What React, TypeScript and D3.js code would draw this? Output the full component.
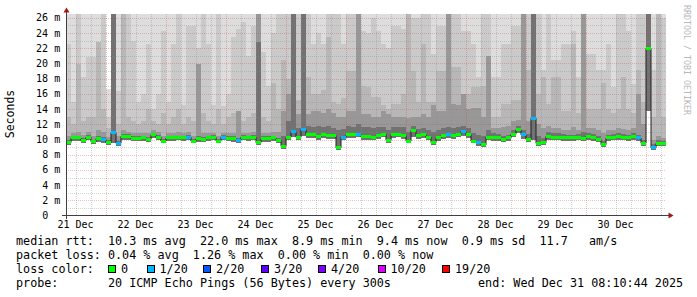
import React from "react";
import * as d3 from "d3";

const W = 697;
const H = 297;
const START = Date.UTC(2025, 11, 21, 8, 10, 44);
const END = Date.UTC(2025, 11, 31, 8, 10, 44);
const STEP_MS = 2 * 3600 * 1000;

const median = [
  9.6, 10.2, 10.2, 9.9, 10.3, 9.7, 10.1, 10.0, 9.6, 10.9,
  9.5, 10.4, 10.4, 10.1, 10.1, 10.2, 10.0, 10.6, 10.3, 9.8,
  10.2, 10.2, 10.2, 10.2, 10.3, 9.8, 10.1, 10.0, 10.2, 10.3,
  9.8, 10.3, 10.1, 10.1, 9.9, 10.3, 10.2, 10.3, 9.6, 10.1,
  10.1, 10.2, 9.9, 9.1, 10.3, 11.0, 10.3, 11.3, 10.6, 10.6,
  10.4, 10.6, 10.5, 10.5, 8.9, 10.3, 10.6, 10.6, 10.7, 10.4,
  10.4, 10.3, 10.5, 10.7, 9.9, 10.6, 10.7, 10.5, 9.8, 11.2,
  10.5, 10.6, 10.3, 9.6, 10.2, 10.5, 10.6, 10.5, 10.7, 11.0,
  10.6, 9.8, 9.6, 9.3, 10.3, 10.2, 10.2, 10.0, 10.2, 10.7,
  11.3, 10.6, 10.0, 12.8, 9.5, 9.6, 10.4, 10.3, 10.3, 10.2,
  10.2, 10.2, 10.3, 10.1, 10.4, 10.2, 10.0, 9.3, 10.2, 10.3,
  10.4, 10.3, 10.2, 10.4, 10.2, 9.5, 22.0, 8.9, 9.5, 9.5,
];

const lossIdx = [
  0, 0, 0, 0, 0, 0, 0, 1, 0, 1,
  1, 0, 0, 0, 0, 0, 0, 0, 0, 0,
  0, 0, 0, 0, 1, 0, 0, 0, 0, 0,
  0, 1, 0, 0, 1, 0, 0, 0, 0, 0,
  0, 0, 0, 0, 0, 1, 0, 1, 0, 0,
  0, 0, 0, 0, 0, 1, 0, 0, 1, 0,
  0, 0, 0, 0, 0, 0, 0, 0, 0, 0,
  0, 0, 0, 0, 0, 0, 1, 0, 0, 1,
  0, 0, 1, 0, 0, 0, 0, 0, 0, 0,
  0, 1, 0, 1, 0, 0, 0, 0, 0, 0,
  0, 0, 0, 0, 0, 0, 0, 0, 0, 0,
  0, 0, 0, 0, 1, 0, 0, 1, 0, 0,
];

const pingMin = [
  9.3, 9.8, 9.8, 9.5, 9.9, 9.4, 9.7, 9.6, 9.3, 9.6,
  9.2, 10.0, 10.0, 9.8, 9.8, 9.8, 9.7, 10.2, 9.9, 9.5,
  9.8, 9.8, 9.9, 9.8, 9.9, 9.5, 9.7, 9.7, 9.8, 9.9,
  9.5, 9.9, 9.8, 9.7, 9.6, 9.9, 9.8, 9.9, 9.3, 9.7,
  9.7, 9.8, 9.5, 8.8, 9.9, 10.3, 9.9, 10.4, 10.2, 10.2,
  10.0, 10.2, 10.1, 10.1, 8.6, 9.9, 10.2, 10.2, 10.3, 10.0,
  10.0, 9.9, 10.1, 10.3, 9.6, 10.2, 10.3, 10.1, 9.5, 10.3,
  10.1, 10.2, 9.9, 9.3, 9.8, 10.1, 10.2, 10.1, 10.3, 10.5,
  10.2, 9.5, 9.2, 9.0, 9.9, 9.8, 9.8, 9.7, 9.8, 10.3,
  10.8, 10.1, 9.7, 10.0, 9.2, 9.3, 10.0, 9.9, 9.9, 9.8,
  9.8, 9.8, 9.9, 9.8, 10.0, 9.8, 9.7, 9.0, 9.8, 9.9,
  10.0, 9.9, 9.8, 10.0, 9.8, 9.2, 13.8, 8.6, 9.2, 9.2,
];

const ping20 = [
  28, 28, 28, 28, 28, 28, 28, 28, 16.6, 28,
  28, 28, 28, 28, 28, 28, 28, 28, 28, 28,
  28, 28, 28, 28, 28, 28, 28, 28, 28, 28,
  28, 28, 28, 28, 28, 28, 28, 28, 28, 28,
  28, 28, 28, 28, 28, 28, 28, 28, 28, 28,
  28, 28, 28, 28, 28, 28, 28, 28, 28, 28,
  28, 28, 28, 28, 28, 28, 28, 28, 28, 28,
  28, 28, 28, 28, 28, 28, 28, 28, 28, 28,
  28, 28, 28, 28, 28, 28, 28, 28, 28, 28,
  28, 28, 28, 28, 28, 28, 28, 28, 28, 28,
  28, 28, 28, 28, 28, 28, 28, 28, 28, 28,
  28, 28, 28, 28, 28, 28, 28, 28, 28, 28,
];

const ping19 = [
  22.6, 15, 28, 18.2, 20.8, 20.8, 22.8, 28, 13, 28,
  16.4, 28, 28, 23, 15, 16, 22.6, 14, 16, 24.3,
  15, 22.6, 28, 14.5, 25, 25, 22, 28, 22.6, 14.5,
  28, 14.4, 16, 23.5, 24.5, 25.5, 21, 25, 28, 21.5,
  17, 24, 28, 28, 28, 28, 28, 28, 28, 22.6,
  24, 22.6, 28, 28, 28, 22.6, 28, 28, 28, 24.3,
  24, 26, 24.3, 22.6, 22, 25, 25, 24.5, 28, 26,
  26, 28, 27, 21.3, 25, 25, 28, 28, 28, 24.3,
  24.3, 22.6, 18.2, 27, 27, 18.2, 18.2, 22.6, 22.6, 25,
  25, 28, 28, 28, 28, 19.1, 28, 20.5, 20.5, 22.6,
  22.6, 24.3, 18.2, 28, 21.3, 21.3, 19.1, 19.1, 22.6, 16.9,
  28, 28, 24.3, 17.3, 28, 28, 28, 19.1, 28, 26,
];

const ping18 = [
  13, 12, 20, 12.5, 13, 13, 22.8, 14, 11.5, 28,
  12, 28, 13, 12.5, 12, 12.5, 14, 12.5, 12, 13.5,
  12, 13, 14, 12, 13, 12.5, 20, 13.5, 12.5, 12,
  14, 12, 13, 13.5, 13.8, 12.5, 13, 13.5, 28, 13,
  12.5, 17.5, 14, 20.4, 18, 28, 15.2, 28, 18.2, 16,
  16, 16.5, 23.5, 15, 14.7, 15.5, 19, 19, 28, 17,
  16.9, 15.6, 15.6, 14.5, 14, 14.7, 14.7, 16, 28, 19,
  15, 22.6, 15, 15, 19, 19, 28, 19.5, 19.5, 16,
  16, 16.9, 16.9, 17, 21, 13, 13, 14.7, 14.7, 15.2,
  15.2, 28, 19.1, 28, 16, 18.2, 14.7, 18.2, 18.2, 13.8,
  13.8, 22.6, 13.5, 28, 14, 14, 14, 17.5, 14, 13.5,
  14, 18.2, 14, 13.5, 19.1, 15, 28, 13, 28, 13,
];

const ping16 = [
  10.4, 10.8, 11, 10.6, 11, 10.5, 11.2, 11, 10.3, 28,
  10.5, 11.2, 11, 10.8, 10.8, 10.8, 10.8, 11.2, 11, 10.5,
  10.8, 10.8, 11, 10.8, 11, 10.5, 20, 10.8, 10.8, 10.9,
  10.5, 10.9, 10.8, 10.8, 13.8, 10.9, 10.8, 11, 28, 10.8,
  10.8, 11, 11, 13.8, 16, 28, 13.4, 28, 13.4, 13.8,
  13.8, 13.5, 14, 13.5, 13, 13, 13.8, 13.8, 28, 13.4,
  13.4, 13, 13, 13.8, 13.3, 13, 13, 13, 12.8, 13,
  13, 13.4, 13, 14.5, 13.8, 13.8, 28, 14.7, 14.5, 16,
  14, 14.1, 14.1, 13, 21, 11.5, 11.5, 11.6, 11.8, 12.5,
  12.6, 28, 12.5, 28, 12, 11.5, 11.8, 11.5, 11.5, 11.3,
  11.3, 11.6, 11.3, 28, 11.5, 11.5, 11.2, 10.8, 11.3, 11.3,
  11.5, 11.4, 11.3, 11.5, 16, 12, 28, 10, 10.5, 10.2,
];

const ping14 = [
  9.9, 10.5, 10.5, 10.2, 10.6, 10, 10.4, 10.3, 9.9, 28,
  9.8, 10.7, 10.7, 10.4, 10.4, 10.5, 10.3, 10.9, 10.6, 10.1,
  10.5, 10.5, 10.5, 10.5, 10.6, 10.1, 10.4, 10.3, 10.5, 10.6,
  10.1, 10.6, 10.4, 10.4, 10.2, 10.6, 10.5, 10.6, 22.8, 10.4,
  10.4, 10.5, 10.2, 10.5, 12.5, 28, 11.5, 28, 11.8, 11.6,
  11.8, 11.6, 11.8, 11.5, 11.3, 11.4, 11.8, 11.6, 12, 11.7,
  11.6, 11.5, 11.6, 11.7, 11.3, 11.6, 11.6, 11.6, 11, 11.8,
  11.4, 11.5, 11.2, 11, 11.3, 11.5, 11.6, 11.5, 11.6, 11.8,
  11.5, 10.8, 10.6, 10.5, 11.2, 10.8, 10.7, 10.5, 10.6, 11.2,
  11.8, 11.2, 10.7, 28, 10.4, 10.2, 11, 10.8, 10.8, 10.7,
  10.6, 10.6, 10.7, 11, 10.8, 10.7, 10.5, 9.8, 10.6, 10.7,
  10.8, 10.7, 10.6, 10.8, 10.6, 10, 28, 9.4, 9.9, 9.8,
];

const smokeBands = [
  { tops: ping20, color: "#dddddd" },
  { tops: ping19, color: "#cacaca" },
  { tops: ping18, color: "#b7b7b7" },
  { tops: ping16, color: "#989898" },
  { tops: ping14, color: "#727272" },
];

const yTickValues = [0, 2, 4, 6, 8, 10, 12, 14, 16, 18, 20, 22, 24, 26];
const yMinorValues = [1, 3, 5, 7, 9, 11, 13, 15, 17, 19, 21, 23, 25];

const lossColors = ["#00ff00", "#00b8ff", "#0059ff", "#5e00ff", "#7e00ff", "#dd00ff", "#ff0000"];
const lossLabels = ["0", "1/20", "2/20", "3/20", "4/20", "10/20", "19/20"];
const lossBoxX = [108.5, 147, 203.5, 261.5, 318.5, 378, 442.5];

const legendRows = [
  { y: 245, x: 16, text: "median rtt:  10.3 ms avg  22.0 ms max  8.9 ms min  9.4 ms now  0.9 ms sd  11.7   am/s" },
  { y: 259, x: 16, text: "packet loss: 0.04 % avg  1.26 % max  0.00 % min  0.00 % now" },
  { y: 273, x: 16, text: "loss color:" },
  { y: 287, x: 16, text: "probe:       20 ICMP Echo Pings (56 Bytes) every 300s" },
  { y: 287, x: 478, text: "end: Wed Dec 31 08:10:44 2025" },
];

const MONO = "'DejaVu Sans Mono', monospace";

export default function App() {
  const x = d3.scaleUtc().domain([new Date(START), new Date(END)]).range([66, 666]);
  const y = d3.scaleLinear().domain([0, 26.5]).range([215.5, 14.1]).clamp(true);
  const colT = (k: number) => new Date(START + k * STEP_MS);
  const n = median.length;
  const cols = d3.range(n);

  const dayTicks = d3.utcDay.range(new Date(START), new Date(END));
  const sixH = d3.utcHour.every(6)!.range(new Date(START), new Date(END)).filter((d) => d.getUTCHours() !== 0);
  const labelTimes = d3.utcHour.every(12)!.range(new Date(START), new Date(END)).filter((d) => d.getUTCHours() === 12);
  const fmt = d3.utcFormat("%d %b");

  const linePts: [number, number][] = cols.map((k) => [x(colT(k)), y(median[k])]);
  linePts.push([x(colT(n)), y(median[n - 1])]);
  const medLine = d3.line().curve(d3.curveStepAfter)(linePts) || "";

  const pr = (v: number) => Math.round(v) + 0.5;
  const gridMinor = "rgba(140,140,140,0.38)";
  const gridMajor = "rgba(210,60,60,0.32)";

  return (
    <svg width={W} height={H} style={{ position: "absolute", left: 0, top: 0, background: "#ffffff" }} fontFamily={MONO}>
      <rect x={0} y={0} width={W} height={H} fill="#ffffff" />
      <g shapeRendering="crispEdges">
        {smokeBands.map((b, bi) =>
          cols.map((k) => {
            const x0 = x(colT(k));
            const x1 = x(colT(k + 1));
            const yt = y(b.tops[k]);
            const yb = y(pingMin[k]);
            return <rect key={bi + "-" + k} x={x0} y={yt} width={x1 - x0} height={Math.max(0, yb - yt)} fill={b.color} />;
          })
        )}
      </g>
      <g strokeDasharray="1,1" strokeWidth={1} shapeRendering="crispEdges">
        {yMinorValues.map((v) => (
          <line key={"hm" + v} x1={66} x2={666} y1={pr(y(v))} y2={pr(y(v))} stroke={gridMinor} />
        ))}
        {sixH.map((d, i) => (
          <line key={"vm" + i} x1={pr(x(d))} x2={pr(x(d))} y1={14} y2={215} stroke={gridMinor} />
        ))}
        {yTickValues.filter((v) => v > 0).map((v) => (
          <line key={"hM" + v} x1={66} x2={666} y1={pr(y(v))} y2={pr(y(v))} stroke={gridMajor} />
        ))}
        {dayTicks.map((d, i) => (
          <line key={"vM" + i} x1={pr(x(d))} x2={pr(x(d))} y1={14} y2={215} stroke={gridMajor} />
        ))}
      </g>
      <path d={medLine} fill="none" stroke="#202020" strokeWidth={1} />
      <g shapeRendering="crispEdges">
        {cols.map((k) => {
          const x0 = x(colT(k));
          const x1 = x(colT(k + 1));
          const ym = y(median[k]);
          return <rect key={"m" + k} x={x0} y={ym - 1.5} width={x1 - x0} height={3} fill={lossColors[lossIdx[k]]} />;
        })}
      </g>
      <line x1={66.5} x2={66.5} y1={219} y2={11} stroke="#404040" strokeWidth={1} />
      <line x1={62} x2={669} y1={215.5} y2={215.5} stroke="#404040" strokeWidth={1} />
      <path d="M63.5,12.5 L66.5,7.5 L69.5,12.5 Z" fill="#a01818" />
      <path d="M668.5,212.5 L673.5,215.5 L668.5,218.5 Z" fill="#a01818" />
      <g fontSize={10} fill="#000">
        {yTickValues.map((v) => (
          <text key={"yl" + v} x={v === 0 ? 48.2 : 60.2} y={y(v) + 3.5} textAnchor="end">
            {v === 0 ? "0" : `${v} m`}
          </text>
        ))}
      </g>
      <g fontSize={10} fill="#000">
        {labelTimes.map((d, i) => (
          <text key={"xl" + i} x={x(d)} y={227.5} textAnchor="middle">
            {fmt(d)}
          </text>
        ))}
      </g>
      <text transform="translate(14,114) rotate(-90)" textAnchor="middle" fontSize={11.5} fill="#000">
        Seconds
      </text>
      <text transform="translate(684,5) rotate(90)" fontSize={8.3} fill="#b8b8b8">
        RRDTOOL / TOBI OETIKER
      </text>
      <g fontSize={11.75} fill="#000">
        {legendRows.map((r, i) => (
          <text key={"lg" + i} x={r.x} y={r.y} xmlSpace="preserve" style={{ whiteSpace: "pre" }}>
            {r.text}
          </text>
        ))}
        {lossLabels.map((lab, i) => (
          <g key={"lc" + i}>
            <rect x={lossBoxX[i]} y={265.5} width={7} height={7} fill={lossColors[i]} stroke="#000" strokeWidth={1} shapeRendering="crispEdges" />
            <text x={lossBoxX[i] + 12.5} y={273}>{lab}</text>
          </g>
        ))}
      </g>
    </svg>
  );
}
